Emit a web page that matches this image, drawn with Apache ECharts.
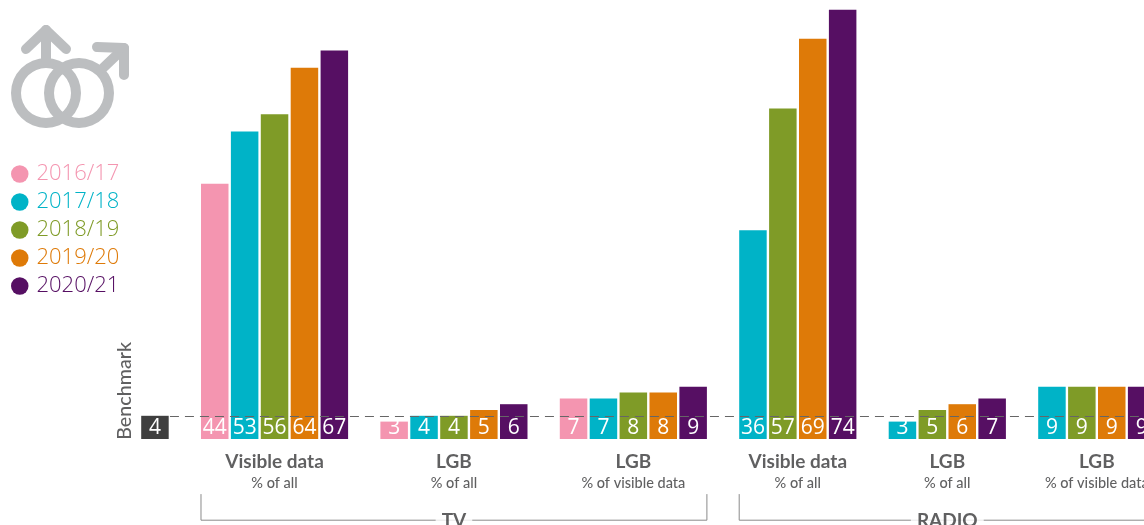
<!DOCTYPE html>
<html>
<head>
<meta charset="utf-8">
<style>html,body{margin:0;padding:0;background:#fff;overflow:hidden}#chart{width:1144px;height:525px}</style>
<script src="https://cdn.jsdelivr.net/npm/echarts@6/dist/echarts.min.js"></script>
</head>
<body>
<div id="chart"></div>
<script>
// Disclosure rates by year: television and radio, against a fixed benchmark.
const years = ['2016/17', '2017/18', '2018/19', '2019/20', '2020/21'];
const yearColors = ['#f495b0', '#00b3c7', '#7f9b27', '#de7a08', '#560f63'];

const benchmarkValue = 4;
const tvVisible = [44, 53, 56, 64, 67];
const tvLgb = [3, 4, 4, 5, 6];
const tvLgbVisible = [7, 7, 8, 8, 9];
const radioVisible = [null, 36, 57, 69, 74];
const radioLgb = [null, 3, 5, 6, 7];
const radioLgbVisible = [null, 9, 9, 9, 9];

const tvGroups = [
  { title: 'Visible data', sub: '% of all', values: tvVisible },
  { title: 'LGB', sub: '% of all', values: tvLgb },
  { title: 'LGB', sub: '% of visible data', values: tvLgbVisible }
];
const radioGroups = [
  { title: 'Visible data', sub: '% of all', values: radioVisible },
  { title: 'LGB', sub: '% of all', values: radioLgb },
  { title: 'LGB', sub: '% of visible data', values: radioLgbVisible }
];
const sections = [
  { name: 'TV', groups: tvGroups },
  { name: 'RADIO', groups: radioGroups }
];

const FONT = 'Lato';
const DIGIT_FONT = 'Open Sans';
const INK = '#38383a';
const SLOT_COUNT = 36;
const BENCHMARK_SLOT = 1;

// Each bar takes one slot on the category axis; a blank slot separates groups.
const yearData = years.map(() => new Array(SLOT_COUNT).fill(null));
const benchmarkData = new Array(SLOT_COUNT).fill(null);
benchmarkData[BENCHMARK_SLOT] = benchmarkValue;

const groupPoints = [];
const sectionPoints = [];
const bracketSeries = [];
let slot = 3;
sections.forEach(section => {
  let sectionStart = slot, sectionEnd = slot;
  section.groups.forEach(group => {
    const first = slot;
    group.values.forEach((v, i) => {
      if (v !== null) { yearData[i][slot] = v; slot++; }
    });
    sectionEnd = slot;
    groupPoints.push({
      value: [(first + slot) / 2, -5.6],
      label: { formatter: '{t|' + group.title + '}\n{s|' + group.sub + '}' }
    });
    slot++;
  });
  const left = sectionStart + 0.04, right = sectionEnd - 0.04;
  bracketSeries.push({
    type: 'line', xAxisIndex: 1, yAxisIndex: 0, symbol: 'none', silent: true, z: 1,
    lineStyle: { color: '#8a8a8a', width: 1 },
    data: [[left, -9.5], [left, -14], [right, -14], [right, -9.5]]
  });
  sectionPoints.push({ value: [(left + right) / 2, -14.1], name: section.name });
});

const categories = benchmarkData.map((_, i) => 'slot' + i);

const barLabel = {
  show: true, position: 'insideBottom', distance: 0,
  color: '#fff', fontFamily: DIGIT_FONT, fontSize: 21, fontWeight: 500
};

const series = years.map((name, i) => ({
  name, type: 'bar', stack: 'bars', barWidth: 27.5, z: 2,
  itemStyle: { color: yearColors[i] },
  label: barLabel,
  data: yearData[i]
}));

series.push({
  name: 'Benchmark', type: 'bar', stack: 'bars', barWidth: 27.5, z: 6,
  itemStyle: { color: '#3f3f3f' },
  label: barLabel,
  data: benchmarkData,
  markLine: {
    silent: true, symbol: 'none', z: 5, animation: false,
    label: { show: false },
    lineStyle: { color: '#666', width: 1, type: [9, 6] },
    data: [[
      { coord: [BENCHMARK_SLOT, benchmarkValue] },
      { coord: [SLOT_COUNT - 1, benchmarkValue] }
    ]]
  }
});

series.push(...bracketSeries);

// Text below the baseline is carried by invisible points on the hidden x axis.
series.push({
  type: 'scatter', xAxisIndex: 1, yAxisIndex: 0, symbolSize: 1, silent: true, z: 3,
  itemStyle: { color: 'transparent' },
  label: {
    show: true, position: 'inside', align: 'center', verticalAlign: 'middle',
    rich: {
      t: { fontFamily: FONT, fontSize: 19, fontWeight: 'bold', color: INK, lineHeight: 23, align: 'center' },
      s: { fontFamily: FONT, fontSize: 14.5, fontWeight: 500, color: INK, lineHeight: 20, align: 'center' }
    }
  },
  data: groupPoints
});
series.push({
  type: 'scatter', xAxisIndex: 1, yAxisIndex: 0, symbolSize: 1, silent: true, z: 4,
  itemStyle: { color: 'transparent' },
  label: {
    show: true, position: 'inside', formatter: '{b}',
    fontFamily: FONT, fontSize: 19, fontWeight: 'bold', color: INK,
    backgroundColor: '#fff', padding: [0, 6]
  },
  data: sectionPoints
});
series.push({
  type: 'scatter', xAxisIndex: 1, yAxisIndex: 0, symbolSize: 1, silent: true, z: 3,
  itemStyle: { color: 'transparent' },
  label: {
    show: true, position: 'inside', formatter: '{b}', rotate: 90,
    fontFamily: FONT, fontSize: 19.7, fontWeight: 500, color: INK
  },
  data: [{ name: 'Benchmark', value: [0.5, 8.3] }]
});

const ICON = '#bcbec0';
const iconStroke = { stroke: ICON, fill: 'none', lineWidth: 10, lineCap: 'round', lineJoin: 'round' };

const chart = echarts.init(document.getElementById('chart'), null, { renderer: 'canvas' });
chart.setOption({
  animation: false,
  backgroundColor: '#fff',
  grid: { left: 110.1, top: 4, right: -42.5, bottom: -1, outerBoundsMode: 'none' },
  xAxis: [
    { type: 'category', data: categories, show: false, boundaryGap: true },
    { type: 'value', min: 0, max: SLOT_COUNT, show: false }
  ],
  yAxis: { type: 'value', min: -15, max: 75, show: false },
  legend: {
    data: years, orient: 'vertical', left: 11, top: 163, padding: 0,
    icon: 'circle', itemWidth: 17.5, itemHeight: 17.5, itemGap: 6,
    selectedMode: false,
    textStyle: { color: 'inherit', fontFamily: DIGIT_FONT, fontSize: 22, fontWeight: 300, padding: [0, 0, 0, 3] }
  },
  graphic: [
    { type: 'ring', shape: { cx: 46, cy: 93, r: 35, r0: 25 }, style: { fill: ICON }, silent: true },
    { type: 'ring', shape: { cx: 79, cy: 93, r: 35, r0: 25 }, style: { fill: ICON }, silent: true },
    { type: 'polyline', shape: { points: [[46, 60], [46, 30]] }, style: iconStroke, silent: true },
    { type: 'polyline', shape: { points: [[26, 49], [46, 30], [66, 49]] }, style: iconStroke, silent: true },
    { type: 'polyline', shape: { points: [[103, 68], [124, 48]] }, style: iconStroke, silent: true },
    { type: 'polyline', shape: { points: [[97, 47], [124, 48], [124, 75]] }, style: iconStroke, silent: true }
  ],
  series
});
</script>
</body>
</html>
